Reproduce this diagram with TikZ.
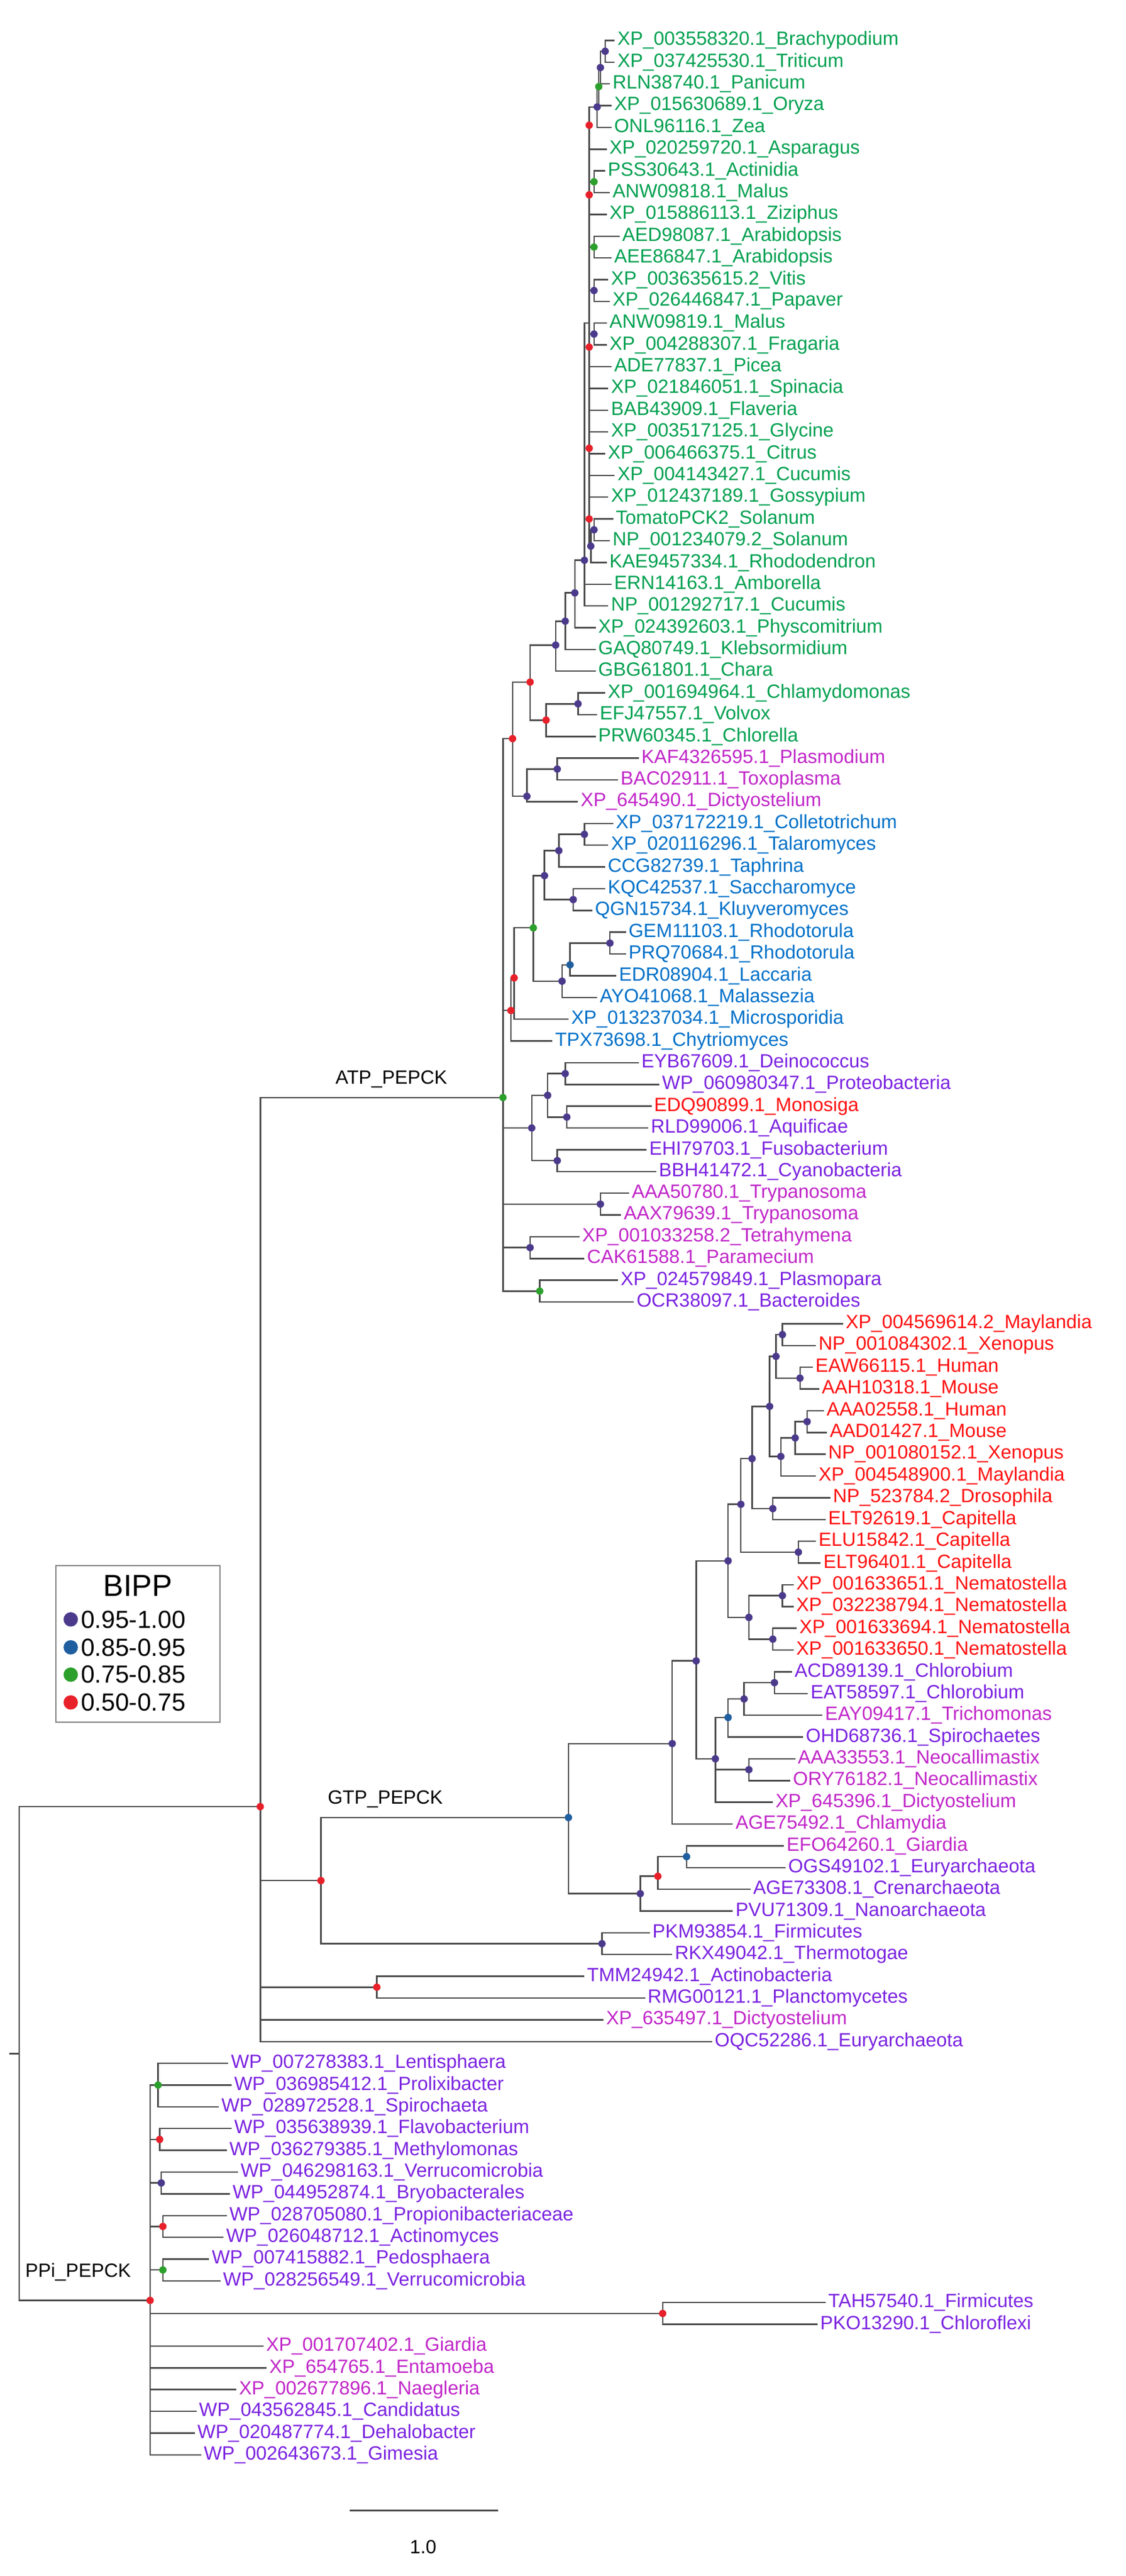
\documentclass[tikz,border=0pt]{standalone}
\usepackage{fontspec}
\setmainfont{Liberation Sans}
\usetikzlibrary{calc}
\definecolor{brc}{HTML}{4A4A4A}
\definecolor{cG}{HTML}{00A050}
\definecolor{cB}{HTML}{0070C8}
\definecolor{cV}{HTML}{7A22E0}
\definecolor{cM}{HTML}{C026C8}
\definecolor{cR}{HTML}{FF1010}
\definecolor{dP}{HTML}{4B3A8C}
\definecolor{dB}{HTML}{1F5FA0}
\definecolor{dG}{HTML}{2CA02C}
\definecolor{dR}{HTML}{E8202A}
\newcommand\yy[1]{{-(25.3+13.62*((#1)-1))}}
\newcommand\LF[5]{\node[leaf,text=#4] (#1) at (#2,\yy{#3}) {#5};}
\newcommand\IN[3]{\coordinate (#1) at (#2,\yy{#3});}
\newcommand\kids[2]{\foreach \c in {#2}{\draw[br] (#1) |- (\c);}}
\newcommand\DOT[2]{\fill[#2] (#1) circle (2.3pt);}
\begin{document}
\begin{tikzpicture}[x=1pt,y=1pt,
  br/.style={line width=0.9pt,draw=brc},
  leaf/.style={anchor=west,inner sep=1.5pt,font=\fontsize{12}{12}\selectfont},
  clade/.style={font=\fontsize{12}{12}\selectfont,text=black,inner sep=1pt}]
\useasboundingbox (0,0) rectangle (705,-1613);
% ---------- leaves ----------
\LF{L1}{385}{1}{cG}{XP\_003558320.1\_Brachypodium}
\LF{L2}{385}{2}{cG}{XP\_037425530.1\_Triticum}
\LF{L3}{382}{3}{cG}{RLN38740.1\_Panicum}
\LF{L4}{383}{4}{cG}{XP\_015630689.1\_Oryza}
\LF{L5}{383}{5}{cG}{ONL96116.1\_Zea}
\LF{L6}{380}{6}{cG}{XP\_020259720.1\_Asparagus}
\LF{L7}{379}{7}{cG}{PSS30643.1\_Actinidia}
\LF{L8}{382}{8}{cG}{ANW09818.1\_Malus}
\LF{L9}{380}{9}{cG}{XP\_015886113.1\_Ziziphus}
\LF{L10}{388}{10}{cG}{AED98087.1\_Arabidopsis}
\LF{L11}{383}{11}{cG}{AEE86847.1\_Arabidopsis}
\LF{L12}{381}{12}{cG}{XP\_003635615.2\_Vitis}
\LF{L13}{382}{13}{cG}{XP\_026446847.1\_Papaver}
\LF{L14}{380}{14}{cG}{ANW09819.1\_Malus}
\LF{L15}{380}{15}{cG}{XP\_004288307.1\_Fragaria}
\LF{L16}{383}{16}{cG}{ADE77837.1\_Picea}
\LF{L17}{381}{17}{cG}{XP\_021846051.1\_Spinacia}
\LF{L18}{381}{18}{cG}{BAB43909.1\_Flaveria}
\LF{L19}{381}{19}{cG}{XP\_003517125.1\_Glycine}
\LF{L20}{379}{20}{cG}{XP\_006466375.1\_Citrus}
\LF{L21}{385}{21}{cG}{XP\_004143427.1\_Cucumis}
\LF{L22}{381}{22}{cG}{XP\_012437189.1\_Gossypium}
\LF{L23}{384}{23}{cG}{TomatoPCK2\_Solanum}
\LF{L24}{382}{24}{cG}{NP\_001234079.2\_Solanum}
\LF{L25}{380}{25}{cG}{KAE9457334.1\_Rhododendron}
\LF{L26}{383}{26}{cG}{ERN14163.1\_Amborella}
\LF{L27}{381}{27}{cG}{NP\_001292717.1\_Cucumis}
\LF{L28}{373}{28}{cG}{XP\_024392603.1\_Physcomitrium}
\LF{L29}{373}{29}{cG}{GAQ80749.1\_Klebsormidium}
\LF{L30}{373}{30}{cG}{GBG61801.1\_Chara}
\LF{L31}{379}{31}{cG}{XP\_001694964.1\_Chlamydomonas}
\LF{L32}{374}{32}{cG}{EFJ47557.1\_Volvox}
\LF{L33}{373}{33}{cG}{PRW60345.1\_Chlorella}
\LF{L34}{400}{34}{cM}{KAF4326595.1\_Plasmodium}
\LF{L35}{387}{35}{cM}{BAC02911.1\_Toxoplasma}
\LF{L36}{362}{36}{cM}{XP\_645490.1\_Dictyostelium}
\LF{L37}{384}{37}{cB}{XP\_037172219.1\_Colletotrichum}
\LF{L38}{381}{38}{cB}{XP\_020116296.1\_Talaromyces}
\LF{L39}{379}{39}{cB}{CCG82739.1\_Taphrina}
\LF{L40}{379}{40}{cB}{KQC42537.1\_Saccharomyce}
\LF{L41}{371}{41}{cB}{QGN15734.1\_Kluyveromyces}
\LF{L42}{392}{42}{cB}{GEM11103.1\_Rhodotorula}
\LF{L43}{392}{43}{cB}{PRQ70684.1\_Rhodotorula}
\LF{L44}{386}{44}{cB}{EDR08904.1\_Laccaria}
\LF{L45}{374}{45}{cB}{AYO41068.1\_Malassezia}
\LF{L46}{356}{46}{cB}{XP\_013237034.1\_Microsporidia}
\LF{L47}{346}{47}{cB}{TPX73698.1\_Chytriomyces}
\LF{L48}{400}{48}{cV}{EYB67609.1\_Deinococcus}
\LF{L49}{413}{49}{cV}{WP\_060980347.1\_Proteobacteria}
\LF{L50}{408}{50}{cR}{EDQ90899.1\_Monosiga}
\LF{L51}{406}{51}{cV}{RLD99006.1\_Aquificae}
\LF{L52}{405}{52}{cV}{EHI79703.1\_Fusobacterium}
\LF{L53}{411}{53}{cV}{BBH41472.1\_Cyanobacteria}
\LF{L54}{394}{54}{cM}{AAA50780.1\_Trypanosoma}
\LF{L55}{389}{55}{cM}{AAX79639.1\_Trypanosoma}
\LF{L56}{363}{56}{cM}{XP\_001033258.2\_Tetrahymena}
\LF{L57}{366}{57}{cM}{CAK61588.1\_Paramecium}
\LF{L58}{387}{58}{cV}{XP\_024579849.1\_Plasmopara}
\LF{L59}{397}{59}{cV}{OCR38097.1\_Bacteroides}
\LF{L60}{528}{60}{cR}{XP\_004569614.2\_Maylandia}
\LF{L61}{511}{61}{cR}{NP\_001084302.1\_Xenopus}
\LF{L62}{509}{62}{cR}{EAW66115.1\_Human}
\LF{L63}{513}{63}{cR}{AAH10318.1\_Mouse}
\LF{L64}{516}{64}{cR}{AAA02558.1\_Human}
\LF{L65}{518}{65}{cR}{AAD01427.1\_Mouse}
\LF{L66}{517}{66}{cR}{NP\_001080152.1\_Xenopus}
\LF{L67}{511}{67}{cR}{XP\_004548900.1\_Maylandia}
\LF{L68}{520}{68}{cR}{NP\_523784.2\_Drosophila}
\LF{L69}{517}{69}{cR}{ELT92619.1\_Capitella}
\LF{L70}{511}{70}{cR}{ELU15842.1\_Capitella}
\LF{L71}{514}{71}{cR}{ELT96401.1\_Capitella}
\LF{L72}{497}{72}{cR}{XP\_001633651.1\_Nematostella}
\LF{L73}{497}{73}{cR}{XP\_032238794.1\_Nematostella}
\LF{L74}{499}{74}{cR}{XP\_001633694.1\_Nematostella}
\LF{L75}{497}{75}{cR}{XP\_001633650.1\_Nematostella}
\LF{L76}{496}{76}{cV}{ACD89139.1\_Chlorobium}
\LF{L77}{506}{77}{cV}{EAT58597.1\_Chlorobium}
\LF{L78}{515}{78}{cM}{EAY09417.1\_Trichomonas}
\LF{L79}{503}{79}{cV}{OHD68736.1\_Spirochaetes}
\LF{L80}{498}{80}{cM}{AAA33553.1\_Neocallimastix}
\LF{L81}{495}{81}{cM}{ORY76182.1\_Neocallimastix}
\LF{L82}{484}{82}{cM}{XP\_645396.1\_Dictyostelium}
\LF{L83}{459}{83}{cM}{AGE75492.1\_Chlamydia}
\LF{L84}{491}{84}{cM}{EFO64260.1\_Giardia}
\LF{L85}{492}{85}{cV}{OGS49102.1\_Euryarchaeota}
\LF{L86}{470}{86}{cV}{AGE73308.1\_Crenarchaeota}
\LF{L87}{459}{87}{cV}{PVU71309.1\_Nanoarchaeota}
\LF{L88}{407}{88}{cV}{PKM93854.1\_Firmicutes}
\LF{L89}{421}{89}{cV}{RKX49042.1\_Thermotogae}
\LF{L90}{366}{90}{cV}{TMM24942.1\_Actinobacteria}
\LF{L91}{404}{91}{cV}{RMG00121.1\_Planctomycetes}
\LF{L92}{378}{92}{cM}{XP\_635497.1\_Dictyostelium}
\LF{L93}{446}{93}{cV}{OQC52286.1\_Euryarchaeota}
\LF{L94}{143}{94}{cV}{WP\_007278383.1\_Lentisphaera}
\LF{L95}{145}{95}{cV}{WP\_036985412.1\_Prolixibacter}
\LF{L96}{137}{96}{cV}{WP\_028972528.1\_Spirochaeta}
\LF{L97}{145}{97}{cV}{WP\_035638939.1\_Flavobacterium}
\LF{L98}{142}{98}{cV}{WP\_036279385.1\_Methylomonas}
\LF{L99}{149}{99}{cV}{WP\_046298163.1\_Verrucomicrobia}
\LF{L100}{144}{100}{cV}{WP\_044952874.1\_Bryobacterales}
\LF{L101}{142}{101}{cV}{WP\_028705080.1\_Propionibacteriaceae}
\LF{L102}{140}{102}{cV}{WP\_026048712.1\_Actinomyces}
\LF{L103}{131}{103}{cV}{WP\_007415882.1\_Pedosphaera}
\LF{L104}{138}{104}{cV}{WP\_028256549.1\_Verrucomicrobia}
\LF{L105}{517}{105}{cV}{TAH57540.1\_Firmicutes}
\LF{L106}{512}{106}{cV}{PKO13290.1\_Chloroflexi}
\LF{L107}{165}{107}{cM}{XP\_001707402.1\_Giardia}
\LF{L108}{167}{108}{cM}{XP\_654765.1\_Entamoeba}
\LF{L109}{148}{109}{cM}{XP\_002677896.1\_Naegleria}
\LF{L110}{123}{110}{cV}{WP\_043562845.1\_Candidatus}
\LF{L111}{122}{111}{cV}{WP\_020487774.1\_Dehalobacter}
\LF{L112}{126}{112}{cV}{WP\_002643673.1\_Gimesia}
% ---------- internal nodes ----------
\IN{n1}{379}{1.5} \IN{n2}{376}{2.25} \IN{n3}{375}{3.125} \IN{n4}{374}{4.06}
\IN{n78}{372}{7.5} \IN{n1011}{372}{10.5} \IN{n1213}{372}{12.5} \IN{n1415}{372}{14.5}
\IN{s1}{372}{23.5} \IN{s2}{370}{24.25}
\IN{RS}{369}{14}
\IN{r1}{369}{4.9} \IN{r2}{369}{8.1} \IN{r3}{369}{15.1} \IN{r4}{369}{19.75} \IN{r5}{369}{23.0}
\IN{Pbig}{366}{24.9} \IN{Ph}{360}{26.4} \IN{Kl}{354}{27.7} \IN{Ch}{348}{28.8}
\IN{c12}{362}{31.5} \IN{cr}{342}{32.25} \IN{pr}{332}{30.5}
\IN{a1}{349}{34.5} \IN{a0}{330}{35.75} \IN{red1}{321}{33.1}
\IN{f37}{366}{37.5} \IN{f39}{350}{38.25} \IN{f40}{359}{40.5} \IN{f41}{341}{39.4}
\IN{f42}{382}{42.5} \IN{fb}{357}{43.5} \IN{f45}{352}{44.25} \IN{fg}{334}{41.8}
\IN{fr2}{322}{44.1} \IN{fr1}{320}{45.6}
\IN{b48}{354}{48.5} \IN{b50}{355}{50.5} \IN{b1}{343}{49.5} \IN{b52}{349}{52.5} \IN{b0}{333}{51}
\IN{tr}{376}{54.5} \IN{tet}{332}{56.5} \IN{pl}{338}{58.5}
\IN{ATP}{315}{49.6}
\IN{v1}{490}{60.5} \IN{v2}{501}{62.5} \IN{v3}{486}{61.5} \IN{v4}{505.5}{64.5}
\IN{v5}{498}{65.25} \IN{v6}{489}{66.1} \IN{v7}{482}{63.8} \IN{v8}{484}{68.5}
\IN{v9}{471}{66.2} \IN{v10}{500}{70.5} \IN{v11}{464}{68.3} \IN{v12}{490}{72.5}
\IN{v13}{484}{74.5} \IN{v14}{469}{73.5} \IN{v15}{456}{70.9}
\IN{k1}{485}{76.5} \IN{k2}{466}{77.25} \IN{kb}{456}{78.1} \IN{k3}{469}{80.5} \IN{k4}{448}{80}
\IN{n430}{436}{75.5} \IN{n420}{421}{79.3}
\IN{g1}{430}{84.5} \IN{g2}{412}{85.4} \IN{g3}{401}{86.2}
\IN{GTP}{356}{82.7} \IN{firm}{377}{88.5} \IN{G0}{201}{85.6}
\IN{tmm}{236}{90.5} \IN{A}{163}{82.2}
\IN{p1}{99}{95} \IN{p2}{100}{97.5} \IN{p3}{101}{99.5} \IN{p4}{102}{101.5} \IN{p5}{102}{103.5}
\IN{lr}{415}{105.5} \IN{PPi}{94}{104.9}
\IN{root}{12}{93.55} \IN{rt}{6}{93.55}
% ---------- branches ----------
\kids{n1}{L1,L2} \kids{n2}{n1,L3} \kids{n3}{n2,L4} \kids{n4}{n3,L5}
\kids{n78}{L7,L8} \kids{n1011}{L10,L11} \kids{n1213}{L12,L13} \kids{n1415}{L14,L15}
\kids{s1}{L23,L24} \kids{s2}{s1,L25}
\kids{RS}{n4,L6,n78,L9,n1011,n1213,n1415,L16,L17,L18,L19,L20,L21,L22,s2}
\kids{Pbig}{RS,L26,L27} \kids{Ph}{Pbig,L28} \kids{Kl}{Ph,L29} \kids{Ch}{Kl,L30}
\kids{c12}{L31,L32} \kids{cr}{c12,L33} \kids{pr}{Ch,cr}
\kids{a1}{L34,L35} \kids{a0}{a1,L36} \kids{red1}{pr,a0}
\kids{f37}{L37,L38} \kids{f39}{f37,L39} \kids{f40}{L40,L41} \kids{f41}{f39,f40}
\kids{f42}{L42,L43} \kids{fb}{f42,L44} \kids{f45}{fb,L45} \kids{fg}{f41,f45}
\kids{fr2}{fg,L46} \kids{fr1}{fr2,L47}
\kids{b48}{L48,L49} \kids{b50}{L50,L51} \kids{b1}{b48,b50} \kids{b52}{L52,L53} \kids{b0}{b1,b52}
\kids{tr}{L54,L55} \kids{tet}{L56,L57} \kids{pl}{L58,L59}
\kids{ATP}{red1,fr1,b0,tr,tet,pl}
\kids{v1}{L60,L61} \kids{v2}{L62,L63} \kids{v3}{v1,v2} \kids{v4}{L64,L65} \kids{v5}{v4,L66}
\kids{v6}{v5,L67} \kids{v7}{v3,v6} \kids{v8}{L68,L69} \kids{v9}{v7,v8} \kids{v10}{L70,L71}
\kids{v11}{v9,v10} \kids{v12}{L72,L73} \kids{v13}{L74,L75} \kids{v14}{v12,v13} \kids{v15}{v11,v14}
\kids{k1}{L76,L77} \kids{k2}{k1,L78} \kids{kb}{k2,L79} \kids{k3}{L80,L81} \kids{k4}{kb,k3,L82}
\kids{n430}{v15,k4} \kids{n420}{n430,L83}
\kids{g1}{L84,L85} \kids{g2}{g1,L86} \kids{g3}{g2,L87}
\kids{GTP}{n420,g3} \kids{firm}{L88,L89} \kids{G0}{GTP,firm}
\kids{tmm}{L90,L91}
\kids{A}{ATP,G0,tmm,L92,L93}
\kids{p1}{L94,L95,L96} \kids{p2}{L97,L98} \kids{p3}{L99,L100} \kids{p4}{L101,L102} \kids{p5}{L103,L104}
\kids{lr}{L105,L106}
\kids{PPi}{p1,p2,p3,p4,p5,lr,L107,L108,L109,L110,L111,L112}
\kids{root}{A,PPi}
\draw[br] (rt) -- (root);
% ---------- support dots ----------
\foreach \n in {n1,n2,n4,n1213,n1415,s1,s2,Pbig,Ph,Kl,Ch,c12,a1,a0,f37,f39,f40,f41,f45,f42,b48,b50,b1,b52,b0,tr,tet,v1,v2,v3,v4,v5,v6,v7,v8,v9,v10,v11,v12,v13,v14,v15,k1,k2,k3,k4,n430,n420,g3,firm,p3}{\DOT{\n}{dP}}
\foreach \n in {n3,n78,n1011,fg,pl,ATP,p1,p5}{\DOT{\n}{dG}}
\foreach \n in {fb,kb,g1,GTP}{\DOT{\n}{dB}}
\foreach \n in {r1,r2,r3,r4,r5,pr,cr,red1,fr2,fr1,g2,G0,tmm,A,PPi,p2,p4,lr}{\DOT{\n}{dR}}
% ---------- clade labels ----------
\node[clade,anchor=south] (atpl) at ($(A |- ATP)!0.54!(ATP)+(0,5)$) {ATP\_PEPCK};
\node[clade,anchor=south] (gtpl) at ($(G0 |- GTP)!0.26!(GTP)+(0,5)$) {GTP\_PEPCK};
\node[clade,anchor=south] (ppil) at ($(root |- PPi)!0.45!(PPi)+(0,11)$) {PPi\_PEPCK};
% ---------- legend ----------
\node[draw=gray,line width=0.8pt,minimum width=103pt,minimum height=98pt,anchor=north west,inner sep=0] (leg) at (34.5,-980) {};
\node[font=\fontsize{19}{19}\selectfont,anchor=center] (legt) at ($(leg.north)+(0,-13)$) {BIPP};
\foreach \col/\lab/\dy [count=\i] in {dP/0.95-1.00/34,dB/0.85-0.95/51.5,dG/0.75-0.85/68.6,dR/0.50-0.75/86}{
  \fill[\col] ($(leg.north west)+(9.8,-\dy)$) circle (4.5pt);
  \node[font=\fontsize{15.5}{15.5}\selectfont,anchor=west,inner sep=0] (le\i) at ($(leg.north west)+(16,-\dy)$) {\lab};
}
% ---------- scale bar ----------
\coordinate (sb1) at (219,-1572); \coordinate (sb2) at (312,-1572);
\draw[line width=0.9pt,draw=brc] (sb1) -- (sb2);
\node[font=\fontsize{12}{12}\selectfont] (sbl) at (265,-1595) {1.0};
\end{tikzpicture}
\end{document}
